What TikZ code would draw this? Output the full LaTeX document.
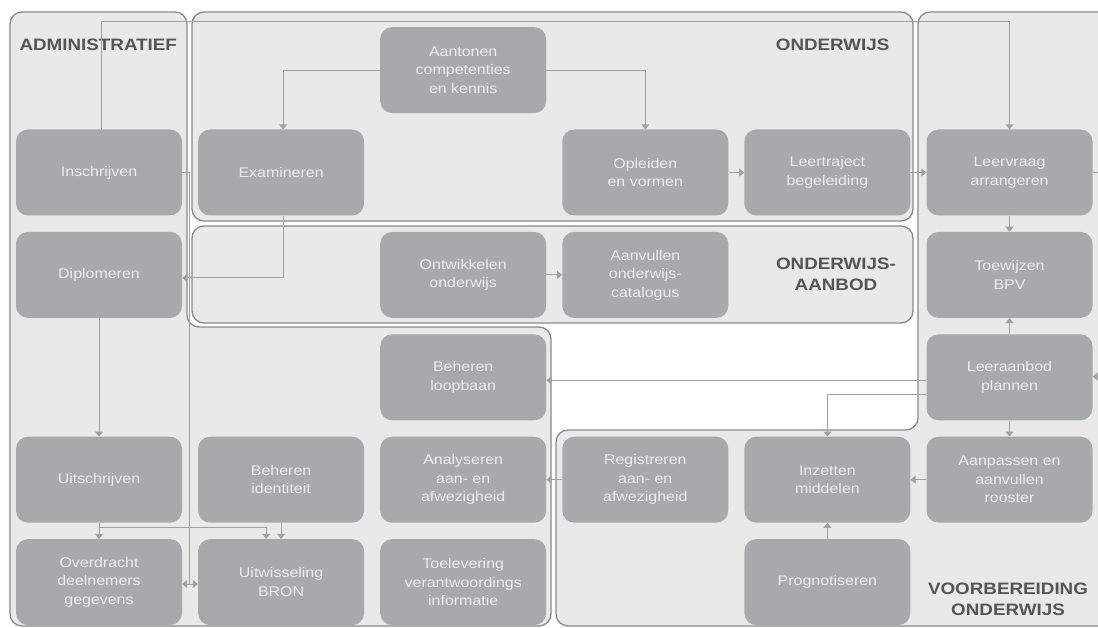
\documentclass[tikz,border=0pt]{standalone}
\usepackage{fontspec}
\setmainfont[FakeStretch=1.14]{Liberation Sans}
\usetikzlibrary{positioning,arrows.meta}

\definecolor{procfill}{HTML}{A8A9AA}
\definecolor{proctext}{HTML}{EDEDED}
\definecolor{zonefill}{HTML}{E8E9E8}
\definecolor{zoneline}{HTML}{8A8A8A}
\definecolor{zonetext}{HTML}{555555}
\definecolor{connline}{HTML}{A0A0A0}

\tikzset{
  proc/.style={rectangle, rounded corners=12pt, fill=procfill, text=proctext, minimum width=166pt, minimum height=86pt, align=center, inner sep=2pt, font=\fontsize{14}{18.5}\selectfont},
  zone/.style={draw=zoneline, fill=zonefill, line width=1.3pt, rounded corners=12pt},
  zonelabel/.style={text=zonetext, align=center, font=\bfseries\fontsize{16.5}{21}\selectfont},
  conn/.style={draw=connline, line width=1pt, -{Triangle[length=5pt,width=8pt]}},
  wire/.style={draw=connline, line width=1pt},
}

\begin{document}
\begin{tikzpicture}[x=1pt, y=-1pt, node distance=16pt and 15.7pt]
\clip (0,0) rectangle (1098,628);

\draw[zone] (10,12) -- (187,12) -- (187,327) -- (551,327) -- (551,626) -- (10,626) -- cycle;
\draw[zone] (192,12) rectangle (913,221);
\draw[zone] (192,226) rectangle (913,323);
\draw[zone] (556,626) -- (556,430) -- (918,430) -- (918,12) -- (1115,12) -- (1115,626) -- cycle;

\node[zonelabel, anchor=west] (admin) at (16,45) {ADMINISTRATIEF};
\node[zonelabel, anchor=east] (ondw) at (893,45) {ONDERWIJS};
\node[zonelabel] (aanbod) at (836,274) {ONDERWIJS-\\AANBOD};
\node[zonelabel] (voorb) at (1008,599) {VOORBEREIDING\\ONDERWIJS};

\node[proc] (insch) at (99,172.5) {Inschrijven};
\node[proc, right=of insch] (exam) {Examineren};
\node[proc, above right=of exam] (aant) {Aantonen\\competenties\\en kennis};
\node[proc, below right=of aant] (opl) {Opleiden\\en vormen};
\node[proc, right=of opl] (leert) {Leertraject\\begeleiding};
\node[proc, right=of leert] (leerv) {Leervraag\\arrangeren};
\node[proc, below=of insch] (dipl) {Diplomeren};
\node[proc, below right=of exam] (ontw) {Ontwikkelen\\onderwijs};
\node[proc, right=of ontw] (aanv) {Aanvullen\\onderwijs-\\catalogus};
\node[proc, below=of leerv] (toew) {Toewijzen\\BPV};
\node[proc, below=of toew] (leera) {Leeraanbod\\plannen};
\node[proc, below=of leera] (aanp) {Aanpassen en\\aanvullen\\rooster};
\node[proc, below=of ontw] (behl) {Beheren\\loopbaan};
\node[proc, below=of behl] (anal) {Analyseren\\aan- en\\afwezigheid};
\node[proc, below=of anal] (toel) {Toelevering\\verantwoordings\\informatie};
\node[proc, left=of anal] (behid) {Beheren\\identiteit};
\node[proc, left=of behid] (uitsch) {Uitschrijven};
\node[proc, below=of uitsch] (overd) {Overdracht\\deelnemers\\gegevens};
\node[proc, below=of behid] (uitw) {Uitwisseling\\BRON};
\node[proc, right=of anal] (regis) {Registreren\\aan- en\\afwezigheid};
\node[proc, right=of regis] (inz) {Inzetten\\middelen};
\node[proc, below=of inz] (progn) {Prognotiseren};

\coordinate (topline) at (0,22);
\coordinate (edgeA) at (1100,172.5);
\coordinate (edgeB) at (1100,376.5);
\coordinate (split) at (189.5,584);

\draw[conn] ([xshift=2pt]insch.north) |- (topline -| leerv.north) -- (leerv);
\draw[conn] (aant.west) -| ([xshift=2pt]exam.north);
\draw[conn] (aant.east) -| (opl.north);
\draw[conn] (opl) -- (leert);
\draw[conn] (leert) -- (leerv);
\draw[wire] (leerv) -- (edgeA);
\draw[conn] (leerv) -- (toew);
\draw[conn] (leera) -- (toew);
\draw[conn] (leera) -- (aanp);
\draw[conn] (edgeB) -- (leera);
\draw[conn] ([yshift=-3pt]leera.west) -- ([yshift=-3pt]behl.east);
\draw[conn] ([yshift=-17pt]leera.west) -| (inz.north);
\draw[conn] (aanp) -- (inz);
\draw[conn] (progn) -- (inz);
\draw[conn] (regis) -- (anal);
\draw[conn] (ontw) -- (aanv);
\draw[conn] ([xshift=2pt]exam.south) |- ([yshift=-3pt]dipl.east);
\draw[conn] (dipl) -- (uitsch);
\draw[conn] (uitsch) -- (overd);
\draw[conn] (uitsch.south) -- ++(0pt,-5pt) -| ([xshift=-15pt]uitw.north);
\draw[conn] (behid) -- (uitw);
\draw[wire] (insch.east) -| (split);
\draw[conn] (split) -- (split -| overd.east);
\draw[conn] (split) -- (split -| uitw.west);
\end{tikzpicture}
\end{document}
